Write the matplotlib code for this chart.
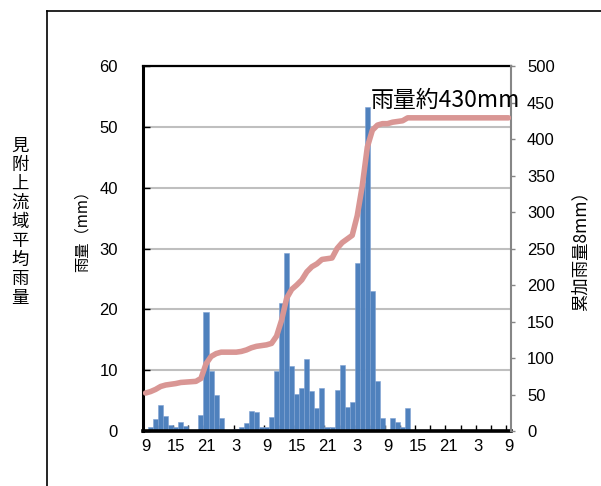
import numpy as np
import matplotlib
matplotlib.use("Agg")
import matplotlib.pyplot as plt
from matplotlib.lines import Line2D

plt.rcParams['font.family'] = ['Liberation Sans', 'Noto Sans CJK JP', 'DejaVu Sans']
CJK = ['Noto Sans CJK JP', 'DejaVu Sans']

# Hourly basin-average rainfall (mm), 73 hours starting at 9:00
rain = [0.0, 0.7, 1.9, 4.2, 2.5, 1.0, 0.7, 1.5, 0.8, 0.0, 0.0, 2.7,
        19.6, 9.9, 5.9, 2.1, 0.0, 0.0, 0.3, 0.7, 1.3, 3.3, 3.2, 0.6,
        0.6, 2.3, 9.9, 21.0, 29.2, 10.7, 6.1, 7.1, 11.8, 6.5, 3.8, 7.1,
        0.6, 0.6, 6.7, 10.8, 3.9, 4.8, 27.6, 40.7, 53.3, 23.0, 8.2, 2.1,
        0.2, 2.1, 1.5, 0.6, 3.8, 0.0, 0.0, 0.0, 0.0, 0.0, 0.0, 0.0,
        0.0, 0.0, 0.0, 0.0, 0.0, 0.0, 0.0, 0.0, 0.0, 0.0, 0.0, 0.0, 0.0]

# Cumulative rainfall (mm)
cumulative = [52, 54, 57, 61, 63, 64, 65, 66.5, 67, 67.5, 68, 72,
              92, 102, 106, 108, 108, 108, 108, 109, 111, 114, 116, 117,
              118, 120, 130, 152, 182, 194, 200, 207, 218, 225, 229, 235,
              236, 237, 250, 258, 263, 268, 295, 336, 389, 412, 419, 421,
              421, 423, 424, 425, 429, 429, 429, 429, 429, 429, 429, 429,
              429, 429, 429, 429, 429, 429, 429, 429, 429, 429, 429, 429, 429]

hour_labels = ['9', '15', '21', '3', '9', '15', '21', '3', '9', '15', '21', '3', '9']

W, H = 601, 486
fig = plt.figure(figsize=(W / 100, H / 100), dpi=100)

ax = fig.add_axes([143 / W, 1 - 431 / H, 368 / W, 365 / H])
x = np.arange(len(rain))
ax.bar(x, rain, width=1.0, color='#4F81BD', edgecolor='#7FA2D3',
       linewidth=0.4, zorder=2)
ax.set_xlim(-0.5, len(rain) - 0.5)
ax.set_ylim(0, 60)
ax.set_yticks(range(0, 61, 10))
ax.yaxis.grid(True, color='#BFBFBF', linewidth=1.5, zorder=0)
ax.set_axisbelow(True)

ax.set_xticks(np.arange(0, len(rain), 6))
ax.set_xticklabels(hour_labels)
ax.set_xticks(np.arange(2.5, len(rain) - 0.5, 3), minor=True)
ax.tick_params(axis='x', which='major', length=0, pad=6, labelsize=12)
ax.tick_params(axis='x', which='minor', direction='in', length=4, width=1,
               color='black')
ax.tick_params(axis='y', direction='in', length=5, width=1, pad=18,
               labelsize=12)

for side, lw in (('left', 2.2), ('bottom', 2.6), ('top', 1.6)):
    ax.spines[side].set_color('black')
    ax.spines[side].set_linewidth(lw)
ax.spines['right'].set_visible(False)

ax2 = ax.twinx()
ax2.plot(x, cumulative, color='#D99694', linewidth=4.0,
         solid_capstyle='round', solid_joinstyle='round', zorder=3)
ax2.set_ylim(0, 500)
ax2.set_yticks(range(0, 501, 50))
ax2.tick_params(axis='y', direction='out', length=3, width=1,
                color='#868686', pad=8.5, labelsize=12)
for side in ('left', 'top', 'bottom'):
    ax2.spines[side].set_visible(False)
ax2.spines['right'].set_color('#868686')
ax2.spines['right'].set_linewidth(1.5)

fig.text(371 / W, 1 - 100 / H, '雨量約430mm', fontsize=16.5, va='center',
         ha='left', family=CJK)

fig.text(82 / W, 1 - 227 / H, '雨量（mm）', fontsize=11, rotation=90,
         va='center', ha='center', family=CJK)
fig.text(580 / W, 1 - 247 / H, '累加雨量8mm）', fontsize=12.5, rotation=90,
         va='center', ha='center', family=CJK)
fig.text(20 / W, 1 - 222 / H, '\n'.join('見附上流域平均雨量'), fontsize=12.5,
         va='center', ha='center', linespacing=1.07, family=CJK)

# Outer frame
fig.add_artist(Line2D([47 / W, 47 / W], [0, 1 - 11 / H],
                      transform=fig.transFigure, color='black', linewidth=1.2))
fig.add_artist(Line2D([47 / W, 1], [1 - 11 / H, 1 - 11 / H],
                      transform=fig.transFigure, color='black', linewidth=1.2))

fig.savefig('out.png', dpi=100)
